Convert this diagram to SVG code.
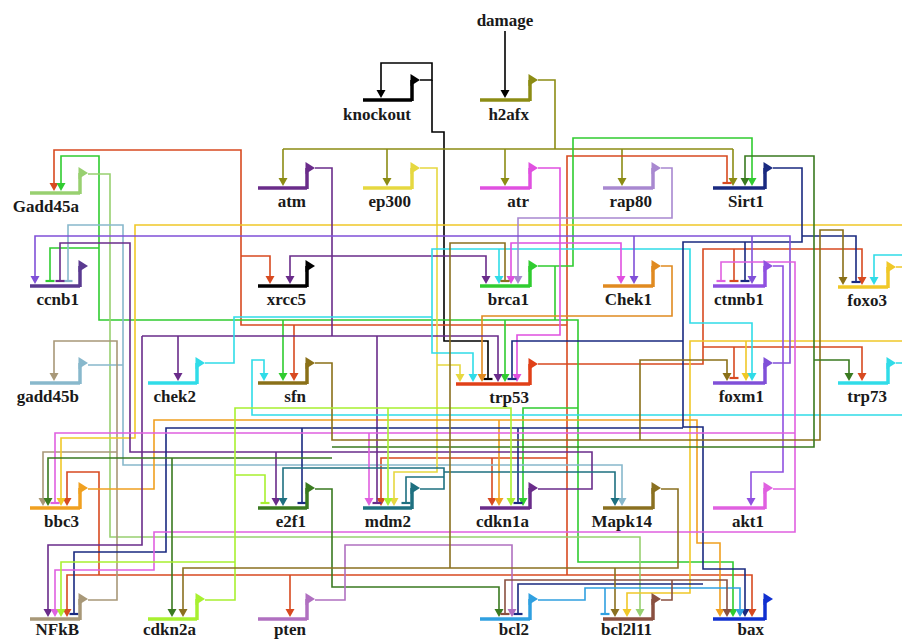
<svg xmlns="http://www.w3.org/2000/svg" xmlns:xlink="http://www.w3.org/1999/xlink" width="902" height="639" viewBox="0 0 902 639">
<style>
.k{stroke:#000;fill:#000}.ol{stroke:#8c8c14;fill:#8c8c14}.rd{stroke:#d84a20;fill:#d84a20}.gr{stroke:#30cc30;fill:#30cc30}
.lg{stroke:#98d070;fill:#98d070}.lb{stroke:#88b8cc;fill:#88b8cc}.tn{stroke:#a89878;fill:#a89878}.ye{stroke:#e6d840;fill:#e6d840}
.go{stroke:#f0c828;fill:#f0c828}.or{stroke:#f0a020;fill:#f0a020}.oc{stroke:#e08a20;fill:#e08a20}.pu{stroke:#6a2c8a;fill:#6a2c8a}
.cy{stroke:#30dce8;fill:#30dce8}.mg{stroke:#e050e0;fill:#e050e0}.lv{stroke:#a888d0;fill:#a888d0}.nv{stroke:#1a2a80;fill:#1a2a80}
.vi{stroke:#8050d8;fill:#8050d8}.vc{stroke:#9050e0;fill:#9050e0}.pk{stroke:#e060e0;fill:#e060e0}.sf{stroke:#8a7018;fill:#8a7018}
.dg{stroke:#3a7a20;fill:#3a7a20}.tl{stroke:#1e7080;fill:#1e7080}.lm{stroke:#a8f030;fill:#a8f030}.orc{stroke:#b070c0;fill:#b070c0}
.mk{stroke:#8a7020;fill:#8a7020}.sk{stroke:#30a0e0;fill:#30a0e0}.br{stroke:#8a5040;fill:#8a5040}.bx{stroke:#1030d0;fill:#1030d0}
.cb{stroke:#5a3a90;fill:#5a3a90}.tr{stroke:#e04018;fill:#e04018}
.w{fill:none;stroke-width:1.6}
.bar{stroke-width:3.5}
.lbl{font-family:"Liberation Serif","Times New Roman",serif;font-weight:bold;font-size:17px;fill:#1a1a1a;stroke:none;text-anchor:end}
</style>
<defs>
<path id="ar" d="M-4.5,-10 H4.5 L0,-2 Z" stroke="none"/>
<path id="tee" d="M-4.5,-5 H4.5" stroke-width="2.2" fill="none"/>
<g id="flag"><path d="M0,1 V-20" stroke-width="3.5" fill="none"/><path d="M-1.5,-26 L8,-20 L-1.5,-14 Z" stroke="none"/></g>
</defs>
<rect width="902" height="639" fill="#fff"/>

<g id="connectors">
<text x="505" y="26" class="lbl" style="text-anchor:middle">damage</text>
<path class="w k" d="M505,31 V92"/><use href="#ar" x="505" y="100" class="k"/>
<path class="w k" d="M420,80 H432 V63 H381 V92"/><use href="#ar" x="381" y="100" class="k"/>
<path class="w k" d="M432,80 V132 H444 V341 H488 V379"/><use href="#tee" x="488" y="384" class="k"/>

<path class="w ol" d="M538,80 H555 V149 M283,149 H733 M283,149 V180 M387,149 V180 M505,149 V180 M622,149 V180 M733,149 V180"/>
<use href="#ar" x="283" y="188" class="ol"/><use href="#ar" x="387" y="188" class="ol"/><use href="#ar" x="505" y="188" class="ol"/><use href="#ar" x="622" y="188" class="ol"/><use href="#ar" x="733" y="188" class="ol"/>

<path class="w rd" d="M538,364 H567 V156 H727 V183 M567,325 H241 V150 H54 V185 M241,256 H270 V278 M294,325 V375 M567,364 V575 H67 V611 M99,575 V472 H67 V500 M290,575 V611 M567,575 H752 V611 M567,458 H381 V500 M492,458 V500 M567,364 H703 V249 H862 V279 M734,249 V281 M703,347 H862 V375 M734,347 V378"/>
<use href="#tee" x="727" y="188" class="rd"/><use href="#ar" x="54" y="193" class="rd"/><use href="#ar" x="270" y="286" class="rd"/><use href="#ar" x="294" y="383" class="rd"/><use href="#ar" x="67" y="619" class="rd"/><use href="#ar" x="67" y="508" class="rd"/><use href="#ar" x="290" y="619" class="rd"/><use href="#ar" x="752" y="619" class="rd"/><use href="#ar" x="381" y="508" class="rd"/><use href="#ar" x="492" y="508" class="rd"/><use href="#ar" x="862" y="287" class="rd"/><use href="#tee" x="734" y="286" class="rd"/><use href="#ar" x="862" y="383" class="rd"/><use href="#tee" x="734" y="383" class="rd"/>

<path class="w gr" d="M538,266 H573 V138 H752 V180 M555,266 V320 H99 V156 H61 V185 M99,248 H50 V281 M283,320 V375 M505,320 V376 M555,320 H578 V562 H733 V611 M578,408 H523 V500"/>
<use href="#ar" x="752" y="188" class="gr"/><use href="#ar" x="61" y="193" class="gr"/><use href="#tee" x="50" y="286" class="gr"/><use href="#ar" x="283" y="383" class="gr"/><use href="#ar" x="505" y="384" class="gr"/><use href="#ar" x="733" y="619" class="gr"/><use href="#ar" x="523" y="508" class="gr"/>

<path class="w lg" d="M88,174 H110 V537 H640 V611"/><use href="#ar" x="640" y="619" class="lg"/>

<path class="w lb" d="M88,365 H123 V225 H68 V281 M123,365 V465 H622 V500"/>
<use href="#tee" x="68" y="286" class="lb"/><use href="#ar" x="622" y="508" class="lb"/>

<path class="w tn" d="M88,600 H117 V341 H54 V375 M117,452 H43 V500"/>
<use href="#ar" x="54" y="383" class="tn"/><use href="#ar" x="43" y="508" class="tn"/>

<path class="w ye" d="M420,168 H437 V472 H394 V500 M437,365 H460 V376"/>
<use href="#ar" x="394" y="508" class="ye"/><use href="#ar" x="460" y="384" class="ye"/>

<path class="w go" d="M896,267 H902 M902,225 H135 V438 H61 V500 M902,341 H690 V593 H627 V611 M746,341 V375"/>
<use href="#ar" x="61" y="508" class="go"/><use href="#ar" x="627" y="619" class="go"/><use href="#ar" x="746" y="383" class="go"/>

<path class="w or" d="M88,489 H154 V420 H697 V543 H720 V611 M499,420 V500"/>
<use href="#ar" x="720" y="619" class="or"/><use href="#ar" x="499" y="508" class="or"/>

<path class="w oc" d="M661,266 H672 V316 H482 V376"/><use href="#ar" x="482" y="384" class="oc"/>

<path class="w pu" d="M315,168 H332 V336 M290,278 V256 H486 V278 M142,336 H498 V376 M178,336 V375 M142,336 V545 H48 V611 M377,336 V503 M538,489 H592 V452 H130 V243 H60 V281 M276,452 V500"/>
<use href="#ar" x="290" y="286" class="pu"/><use href="#ar" x="486" y="286" class="pu"/><use href="#ar" x="498" y="384" class="pu"/><use href="#ar" x="178" y="383" class="pu"/><use href="#ar" x="48" y="619" class="pu"/><use href="#tee" x="377" y="508" class="pu"/><use href="#tee" x="60" y="286" class="pu"/><use href="#ar" x="276" y="508" class="pu"/>

<path class="w cy" d="M205,363 H234 V317 H432 V249 H690 V323 H752 V375 M432,317 V353 H473 V376 M499,249 V278 M896,363 H902 M902,415 H252 V360 H264 V375 M902,255 H874 V279"/>
<use href="#ar" x="752" y="383" class="cy"/><use href="#ar" x="473" y="384" class="cy"/><use href="#ar" x="499" y="286" class="cy"/><use href="#ar" x="264" y="383" class="cy"/><use href="#ar" x="874" y="287" class="cy"/>

<path class="w mg" d="M538,168 H560 V335 H517 V376 M511,278 V243 H621 V278"/>
<use href="#ar" x="517" y="384" class="mg"/><use href="#ar" x="511" y="286" class="mg"/><use href="#ar" x="621" y="286" class="mg"/>

<path class="w lv" d="M661,168 H672 V218 H518 V278"/><use href="#ar" x="518" y="286" class="lv"/>

<path class="w nv" d="M773,168 H802 V242 H683 V427 H703 V569 H745 V611 M745,242 V281 M856,282 V236 H802 M683,341 H512 V379 M683,428 H166 V552 H74 V614 M302,428 V503 M518,428 V503 M518,614 V584 H703"/>
<use href="#ar" x="745" y="619" class="nv"/><use href="#tee" x="745" y="286" class="nv"/><use href="#tee" x="856" y="287" class="nv"/><use href="#tee" x="512" y="384" class="nv"/><use href="#tee" x="74" y="619" class="nv"/><use href="#tee" x="302" y="508" class="nv"/><use href="#tee" x="518" y="508" class="nv"/><use href="#tee" x="518" y="619" class="nv"/>

<path class="w vi" d="M773,363 H790 V236 H35 V278 M752,236 V278 M634,236 V278"/>
<use href="#ar" x="35" y="286" class="vi"/><use href="#ar" x="752" y="286" class="vi"/><use href="#ar" x="634" y="286" class="vi"/>

<path class="w vc" d="M773,266 H783 V472 H751 V500"/><use href="#ar" x="751" y="508" class="vc"/>

<path class="w pk" d="M773,489 H795 V262 H721 V281 M795,489 V532 H154 V570 H55 V611 M795,433 H55 V503 M369,433 V500"/>
<use href="#tee" x="721" y="286" class="pk"/><use href="#ar" x="55" y="619" class="pk"/><use href="#tee" x="55" y="508" class="pk"/><use href="#ar" x="369" y="508" class="pk"/>

<path class="w sf" d="M315,363 H332 V440 H640 V360 H727 V375 M843,279 V230 H820 V440 H640"/>
<use href="#ar" x="727" y="383" class="sf"/><use href="#ar" x="843" y="287" class="sf"/>

<path class="w dg" d="M315,489 H332 V587 H499 V611 M332,458 H48 V500 M172,458 V611 M332,447 H814 V156 H745 V180 M814,360 H849 V375"/>
<use href="#ar" x="499" y="619" class="dg"/><use href="#ar" x="48" y="508" class="dg"/><use href="#ar" x="172" y="619" class="dg"/><use href="#ar" x="745" y="188" class="dg"/><use href="#ar" x="849" y="383" class="dg"/>

<path class="w tl" d="M420,489 H444 V477 H406 V503 M444,489 V468 H283 V500 M444,472 H615 V500"/>
<use href="#tee" x="406" y="508" class="tl"/><use href="#ar" x="283" y="508" class="tl"/><use href="#ar" x="615" y="508" class="tl"/>

<path class="w lm" d="M205,600 H235 V408 H511 V500 M388,408 V500 M235,475 H265 V503 M235,562 H61 V611"/>
<use href="#ar" x="511" y="508" class="lm"/><use href="#ar" x="388" y="508" class="lm"/><use href="#tee" x="265" y="508" class="lm"/><use href="#ar" x="61" y="619" class="lm"/>

<path class="w orc" d="M315,600 H345 V545 H512 V611"/><use href="#ar" x="512" y="619" class="orc"/>

<path class="w mk" d="M661,489 H678 V568 H183 V611 M615,568 V611 M505,281 V243 H450 V568"/>
<use href="#ar" x="183" y="619" class="mk"/><use href="#ar" x="615" y="619" class="mk"/><use href="#tee" x="505" y="286" class="mk"/>

<path class="w sk" d="M538,600 H585 V588 H740 V611 M605,588 V614"/>
<use href="#ar" x="740" y="619" class="sk"/><use href="#tee" x="605" y="619" class="sk"/>

<path class="w br" d="M661,600 H672 V580 H727 V611 M672,580 H505 V614"/>
<use href="#ar" x="727" y="619" class="br"/><use href="#tee" x="505" y="619" class="br"/>
</g>

<g id="knockout" class="k"><line x1="363" y1="100" x2="412" y2="100" class="bar"/><use href="#flag" x="412" y="100"/><text x="411" y="120" class="lbl">knockout</text></g>
<g id="h2afx" class="ol"><line x1="480" y1="100" x2="530" y2="100" class="bar"/><use href="#flag" x="530" y="100"/><text x="529" y="120" class="lbl">h2afx</text></g>
<g id="Gadd45a" class="lg"><line x1="30" y1="193" x2="80" y2="193" class="bar"/><use href="#flag" x="80" y="193"/><text x="79" y="212" class="lbl">Gadd45a</text></g>
<g id="atm" class="pu"><line x1="258" y1="188" x2="307" y2="188" class="bar"/><use href="#flag" x="307" y="188"/><text x="306" y="207" class="lbl">atm</text></g>
<g id="ep300" class="ye"><line x1="363" y1="188" x2="412" y2="188" class="bar"/><use href="#flag" x="412" y="188"/><text x="411" y="207" class="lbl">ep300</text></g>
<g id="atr" class="mg"><line x1="480" y1="188" x2="530" y2="188" class="bar"/><use href="#flag" x="530" y="188"/><text x="529" y="207" class="lbl">atr</text></g>
<g id="rap80" class="lv"><line x1="603" y1="188" x2="653" y2="188" class="bar"/><use href="#flag" x="653" y="188"/><text x="652" y="207" class="lbl">rap80</text></g>
<g id="Sirt1" class="nv"><line x1="713" y1="188" x2="765" y2="188" class="bar"/><use href="#flag" x="765" y="188"/><text x="764" y="207" class="lbl">Sirt1</text></g>
<g id="ccnb1" class="cb"><line x1="30" y1="286" x2="80" y2="286" class="bar"/><use href="#flag" x="80" y="286"/><text x="79" y="305" class="lbl">ccnb1</text></g>
<g id="xrcc5" class="k"><line x1="258" y1="286" x2="307" y2="286" class="bar"/><use href="#flag" x="307" y="286"/><text x="306" y="305" class="lbl">xrcc5</text></g>
<g id="brca1" class="gr"><line x1="480" y1="286" x2="530" y2="286" class="bar"/><use href="#flag" x="530" y="286"/><text x="529" y="305" class="lbl">brca1</text></g>
<g id="Chek1" class="oc"><line x1="603" y1="286" x2="653" y2="286" class="bar"/><use href="#flag" x="653" y="286"/><text x="652" y="305" class="lbl">Chek1</text></g>
<g id="ctnnb1" class="vc"><line x1="713" y1="286" x2="765" y2="286" class="bar"/><use href="#flag" x="765" y="286"/><text x="764" y="305" class="lbl">ctnnb1</text></g>
<g id="foxo3" class="go"><line x1="838" y1="287" x2="888" y2="287" class="bar"/><use href="#flag" x="888" y="287"/><text x="887" y="306" class="lbl">foxo3</text></g>
<g id="gadd45b" class="lb"><line x1="30" y1="383" x2="80" y2="383" class="bar"/><use href="#flag" x="80" y="383"/><text x="79" y="402" class="lbl">gadd45b</text></g>
<g id="chek2" class="cy"><line x1="148" y1="383" x2="197" y2="383" class="bar"/><use href="#flag" x="197" y="383"/><text x="196" y="402" class="lbl">chek2</text></g>
<g id="sfn" class="sf"><line x1="258" y1="383" x2="307" y2="383" class="bar"/><use href="#flag" x="307" y="383"/><text x="306" y="402" class="lbl">sfn</text></g>
<g id="trp53" class="tr"><line x1="456" y1="384" x2="530" y2="384" class="bar"/><use href="#flag" x="530" y="384"/><text x="529" y="403" class="lbl">trp53</text></g>
<g id="foxm1" class="vi"><line x1="713" y1="383" x2="765" y2="383" class="bar"/><use href="#flag" x="765" y="383"/><text x="764" y="402" class="lbl">foxm1</text></g>
<g id="trp73" class="cy"><line x1="838" y1="383" x2="888" y2="383" class="bar"/><use href="#flag" x="888" y="383"/><text x="887" y="402" class="lbl">trp73</text></g>
<g id="bbc3" class="or"><line x1="30" y1="508" x2="80" y2="508" class="bar"/><use href="#flag" x="80" y="508"/><text x="79" y="527" class="lbl">bbc3</text></g>
<g id="e2f1" class="dg"><line x1="258" y1="508" x2="307" y2="508" class="bar"/><use href="#flag" x="307" y="508"/><text x="306" y="527" class="lbl">e2f1</text></g>
<g id="mdm2" class="tl"><line x1="363" y1="508" x2="412" y2="508" class="bar"/><use href="#flag" x="412" y="508"/><text x="411" y="527" class="lbl">mdm2</text></g>
<g id="cdkn1a" class="pu"><line x1="480" y1="508" x2="530" y2="508" class="bar"/><use href="#flag" x="530" y="508"/><text x="529" y="527" class="lbl">cdkn1a</text></g>
<g id="Mapk14" class="mk"><line x1="603" y1="508" x2="653" y2="508" class="bar"/><use href="#flag" x="653" y="508"/><text x="652" y="527" class="lbl">Mapk14</text></g>
<g id="akt1" class="pk"><line x1="713" y1="508" x2="765" y2="508" class="bar"/><use href="#flag" x="765" y="508"/><text x="764" y="527" class="lbl">akt1</text></g>
<g id="NFkB" class="tn"><line x1="30" y1="619" x2="80" y2="619" class="bar"/><use href="#flag" x="80" y="619"/><text x="79" y="635" class="lbl">NFkB</text></g>
<g id="cdkn2a" class="lm"><line x1="148" y1="619" x2="197" y2="619" class="bar"/><use href="#flag" x="197" y="619"/><text x="196" y="635" class="lbl">cdkn2a</text></g>
<g id="pten" class="orc"><line x1="258" y1="619" x2="307" y2="619" class="bar"/><use href="#flag" x="307" y="619"/><text x="306" y="635" class="lbl">pten</text></g>
<g id="bcl2" class="sk"><line x1="480" y1="619" x2="530" y2="619" class="bar"/><use href="#flag" x="530" y="619"/><text x="529" y="635" class="lbl">bcl2</text></g>
<g id="bcl2l11" class="br"><line x1="603" y1="619" x2="653" y2="619" class="bar"/><use href="#flag" x="653" y="619"/><text x="652" y="635" class="lbl">bcl2l11</text></g>
<g id="bax" class="bx"><line x1="713" y1="619" x2="765" y2="619" class="bar"/><use href="#flag" x="765" y="619"/><text x="764" y="635" class="lbl">bax</text></g>
</svg>
